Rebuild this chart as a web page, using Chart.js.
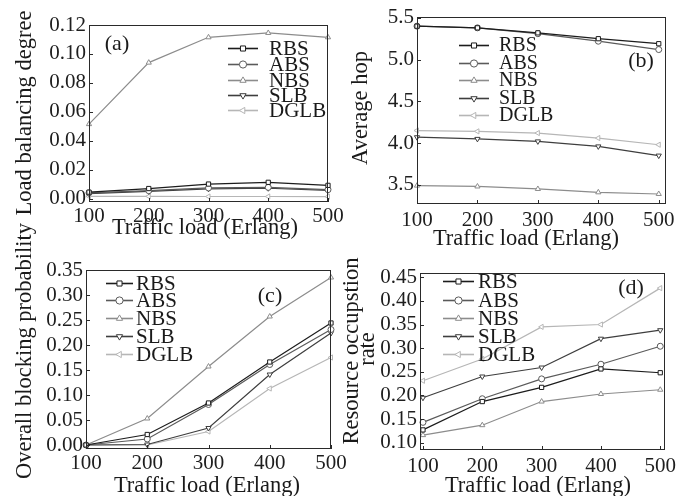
<!DOCTYPE html>
<html><head><meta charset="utf-8">
<script src="https://cdn.jsdelivr.net/npm/chart.js@4/dist/chart.umd.min.js"></script>
<style>
html,body{margin:0;padding:0;background:#fff;}
#wrap{position:relative;width:692px;height:496px;overflow:hidden;background:#fff;}
canvas{position:absolute;left:0;top:0;}
</style></head><body>
<div id="wrap">
<canvas id="ca" width="692" height="496"></canvas>
<canvas id="cb" width="692" height="496"></canvas>
<canvas id="cc" width="692" height="496"></canvas>
<canvas id="cd" width="692" height="496"></canvas>
</div>
<script>
// ---- data ----
const loads = [100, 200, 300, 400, 500];
const names = ['RBS', 'ABS', 'NBS', 'SLB', 'DGLB'];
// (a) Load balancing degree
const aRBS  = [0.0045, 0.0070, 0.0101, 0.0113, 0.0092];
const aABS  = [0.0040, 0.0055, 0.0074, 0.0078, 0.0062];
const aNBS  = [0.0515, 0.0940, 0.1115, 0.1145, 0.1115];
const aSLB  = [0.0035, 0.0050, 0.0068, 0.0072, 0.0058];
const aDGLB = [0.0016, 0.0016, 0.0015, 0.0015, 0.0014];
// (b) Average hop
const bRBS  = [5.40, 5.38, 5.32, 5.25, 5.19];
const bABS  = [5.40, 5.38, 5.31, 5.22, 5.12];
const bNBS  = [3.49, 3.48, 3.45, 3.41, 3.39];
const bSLB  = [4.07, 4.05, 4.02, 3.96, 3.85];
const bDGLB = [4.15, 4.14, 4.12, 4.06, 3.98];
// (c) Overall blocking probability
const cRBS  = [0.000, 0.021, 0.084, 0.166, 0.244];
const cABS  = [0.000, 0.012, 0.081, 0.161, 0.231];
const cNBS  = [0.000, 0.053, 0.157, 0.257, 0.335];
const cSLB  = [0.000, 0.001, 0.034, 0.141, 0.224];
const cDGLB = [0.000, 0.000, 0.027, 0.113, 0.175];
// (d) Resource occupation rate
const dRBS  = [0.127, 0.187, 0.217, 0.256, 0.248];
const dABS  = [0.143, 0.193, 0.235, 0.266, 0.304];
const dNBS  = [0.116, 0.137, 0.187, 0.203, 0.212];
const dSLB  = [0.195, 0.240, 0.259, 0.320, 0.338];
const dDGLB = [0.231, 0.277, 0.345, 0.350, 0.427];
// tick labels
const xTickLabels = ['100', '200', '300', '400', '500'];

// ---- style ----
const FONT = "'Liberation Serif', 'Times New Roman', serif";
const colors = ['#1c1c1c', '#5a5a5a', '#8c8c8c', '#3e3e3e', '#b6b6b6'];
const markers = [
  {style: 'rect', rot: 0}, {style: 'circle', rot: 0}, {style: 'triangle', rot: 0},
  {style: 'triangle', rot: 180}, {style: 'triangle', rot: 270}
];
Chart.defaults.font.family = FONT;
Chart.defaults.color = '#1e1e1e';

function drawMarker(ctx, style, rotDeg, x, y, r) {
  ctx.beginPath();
  if (style === 'circle') {
    ctx.arc(x, y, r, 0, Math.PI * 2);
  } else if (style === 'rect') {
    const s = r * Math.SQRT1_2;
    ctx.rect(x - s, y - s, 2 * s, 2 * s);
  } else {
    let rad = rotDeg * Math.PI / 180;
    for (let k = 0; k < 3; k++) {
      const px = x + Math.sin(rad) * r, py = y - Math.cos(rad) * r;
      if (k === 0) ctx.moveTo(px, py); else ctx.lineTo(px, py);
      rad += 2 * Math.PI / 3;
    }
    ctx.closePath();
  }
  ctx.fill();
  ctx.stroke();
}

function makeChart(id, cfg) {
  const f = cfg.frame;
  const YW = 60, XH = 40;
  const datasets = cfg.series.map((vals, i) => ({
    label: names[i],
    data: loads.map((x, j) => ({x: x, y: vals[j]})),
    borderColor: colors[i],
    backgroundColor: '#ffffff',
    pointBackgroundColor: '#ffffff',
    pointBorderColor: colors[i],
    pointStyle: markers[i].style,
    pointRotation: markers[i].rot,
    pointRadius: 3,
    pointBorderWidth: 1,
    borderWidth: 1.2,
    tension: 0,
    clip: false
  }));
  const deco = {
    id: 'deco_' + id,
    afterDraw(chart) {
      const ctx = chart.ctx;
      const a = chart.chartArea;
      ctx.save();
      // frame
      ctx.strokeStyle = '#2a2a2a';
      ctx.lineWidth = 1;
      ctx.strokeRect(Math.round(a.left) + 0.5, Math.round(a.top) + 0.5,
                     Math.round(a.right - a.left) - 1, Math.round(a.bottom - a.top) - 1);
      // inward ticks
      const xs = chart.scales.x, ys = chart.scales.y;
      ctx.beginPath();
      xs.ticks.forEach(t => {
        const px = Math.round(xs.getPixelForValue(t.value)) + 0.5;
        ctx.moveTo(px, a.bottom); ctx.lineTo(px, a.bottom - 4);
      });
      ys.ticks.forEach(t => {
        const py = Math.round(ys.getPixelForValue(t.value)) + 0.5;
        ctx.moveTo(a.left, py); ctx.lineTo(a.left + 4, py);
      });
      ctx.stroke();
      // legend
      const L = cfg.legend;
      ctx.font = L.size + 'px ' + FONT;
      ctx.textBaseline = 'middle';
      ctx.textAlign = 'left';
      names.forEach((n, i) => {
        const y = L.ys[i] + 0.5;
        ctx.strokeStyle = colors[i];
        ctx.lineWidth = 1.6;
        ctx.beginPath(); ctx.moveTo(L.x0, y); ctx.lineTo(L.x1, y); ctx.stroke();
        ctx.lineWidth = 1;
        ctx.fillStyle = '#ffffff';
        drawMarker(ctx, markers[i].style, markers[i].rot, (L.x0 + L.x1) / 2, y, 3.6);
        ctx.fillStyle = '#1a1a1a';
        ctx.fillText(n, L.tx, L.ys[i] + 1);
      });
      // panel label
      ctx.font = '22px ' + FONT;
      ctx.textAlign = 'center';
      ctx.fillStyle = '#1a1a1a';
      ctx.fillText(cfg.panel.text, cfg.panel.x, cfg.panel.y);
      // x title
      ctx.font = '22.5px ' + FONT;
      ctx.fillText(cfg.xTitle.text, cfg.xTitle.x, cfg.xTitle.y);
      // y title(s)
      cfg.yTitle.forEach(t => {
        ctx.save();
        ctx.translate(t.x, t.y);
        ctx.rotate(-Math.PI / 2);
        ctx.fillText(t.text, 0, 0);
        ctx.restore();
      });
      ctx.restore();
    }
  };
  return new Chart(document.getElementById(id), {
    type: 'line',
    data: {datasets: datasets},
    options: {
      responsive: false,
      animation: false,
      devicePixelRatio: 1,
      layout: {padding: {left: f.l - YW, top: f.t, right: 692 - f.r, bottom: 496 - f.b - XH}},
      plugins: {legend: {display: false}, tooltip: {enabled: false}, title: {display: false}},
      scales: {
        x: {
          type: 'linear', min: cfg.xmin, max: cfg.xmax,
          grid: {display: false, drawTicks: false},
          border: {display: false},
          ticks: {
            stepSize: 100, includeBounds: false, padding: cfg.xPad, autoSkip: false, maxRotation: 0,
            color: '#1e1e1e', font: {size: 21, family: FONT},
            callback: v => { const i = loads.indexOf(v); return i >= 0 ? xTickLabels[i] : ''; }
          },
          afterFit: s => { s.height = XH; s.paddingLeft = 0; s.paddingRight = 0; s.paddingTop = 0; s.paddingBottom = 0; }
        },
        y: {
          type: 'linear', min: cfg.ymin, max: cfg.ymax,
          grid: {display: false, drawTicks: false},
          border: {display: false},
          ticks: {
            stepSize: cfg.yStep, includeBounds: false, padding: 3, autoSkip: false,
            color: '#1e1e1e', font: {size: 21, family: FONT},
            callback: v => Number(v).toFixed(cfg.yDec)
          },
          afterFit: s => { s.width = YW; s.paddingLeft = 0; s.paddingRight = 0; s.paddingTop = 0; s.paddingBottom = 0; }
        }
      }
    },
    plugins: [deco]
  });
}

makeChart('ca', {
  frame: {l: 89, t: 25, r: 328, b: 202},
  series: [aRBS, aABS, aNBS, aSLB, aDGLB],
  xmin: 100, xmax: 500, ymin: -0.0023, ymax: 0.12, yStep: 0.02, yDec: 2, xPad: 2,
  legend: {x0: 228, x1: 258, tx: 269, ys: [48, 64, 80, 95, 110], size: 21},
  panel: {text: '(a)', x: 117, y: 44},
  xTitle: {text: 'Traffic load (Erlang)', x: 205, y: 228},
  yTitle: [{text: 'Load balancing degree', x: 25, y: 113}]
});
makeChart('cb', {
  frame: {l: 417, t: 17, r: 666, b: 204},
  series: [bRBS, bABS, bNBS, bSLB, bDGLB],
  xmin: 100, xmax: 512, ymin: 3.27, ymax: 5.51, yStep: 0.5, yDec: 1, xPad: 4,
  legend: {x0: 459, x1: 489, tx: 499, ys: [45, 63, 80, 98, 115], size: 20},
  panel: {text: '(b)', x: 641, y: 61},
  xTitle: {text: 'Traffic load (Erlang)', x: 526, y: 239},
  yTitle: [{text: 'Average hop', x: 361, y: 108}]
});
makeChart('cc', {
  frame: {l: 86, t: 270, r: 331, b: 449},
  series: [cRBS, cABS, cNBS, cSLB, cDGLB],
  xmin: 100, xmax: 500, ymin: -0.008, ymax: 0.35, yStep: 0.05, yDec: 2, xPad: 2,
  legend: {x0: 106, x1: 133, tx: 136, ys: [283, 300, 318, 336, 354], size: 21},
  panel: {text: '(c)', x: 270, y: 296},
  xTitle: {text: 'Traffic load (Erlang)', x: 207, y: 486},
  yTitle: [{text: 'Overall blocking probability', x: 25, y: 351}]
});
makeChart('cd', {
  frame: {l: 420, t: 273, r: 665, b: 450},
  series: [dRBS, dABS, dNBS, dSLB, dDGLB],
  xmin: 95, xmax: 508, ymin: 0.0845, ymax: 0.459, yStep: 0.05, yDec: 2, xPad: 4,
  legend: {x0: 443, x1: 474, tx: 478, ys: [281, 300, 318, 336, 354], size: 21},
  panel: {text: '(d)', x: 631, y: 288},
  xTitle: {text: 'Traffic load (Erlang)', x: 538, y: 486},
  yTitle: [{text: 'Resource occupstion', x: 352, y: 351}, {text: 'rate', x: 368, y: 349}]
});
</script>
</body></html>
